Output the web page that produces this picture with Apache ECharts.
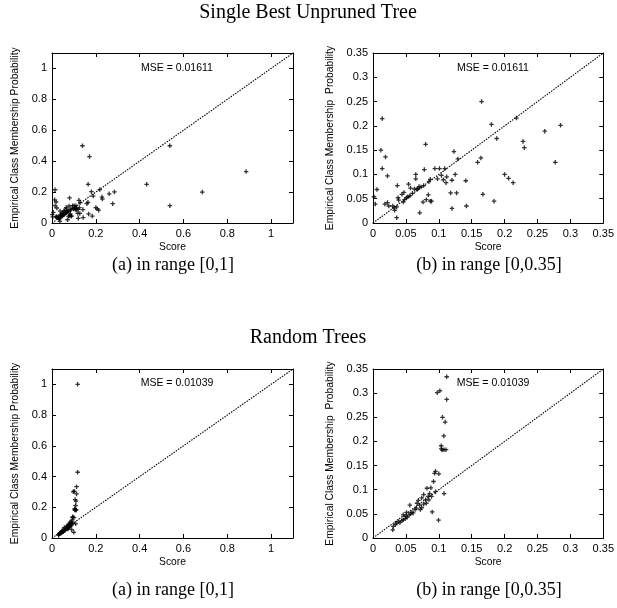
<!DOCTYPE html>
<html>
<head>
<meta charset="utf-8">
<script src="https://cdn.jsdelivr.net/npm/echarts@6/dist/echarts.min.js"></script>
<style>
  html, body { margin: 0; padding: 0; background: #fff; }
  #chart-container { width: 617px; height: 608px; }
</style>
</head>
<body>
<div id="chart-container"></div>
<script>
// [score, empirical class membership probability]
var singleTree = [
  [0.165, 0.25], [0.014, 0.215], [0.18, 0.203], [0.218, 0.216], [0.285, 0.201],
  [0.261, 0.189], [0.188, 0.174], [0.228, 0.168], [0.23, 0.155], [0.08, 0.162],
  [0.012, 0.15], [0.019, 0.136], [0.123, 0.147], [0.129, 0.132], [0.164, 0.134],
  [0.159, 0.125], [0.277, 0.125], [0.014, 0.112], [0.022, 0.097], [0.065, 0.1],
  [0.065, 0.091], [0.078, 0.11], [0.094, 0.112], [0.101, 0.112], [0.109, 0.112],
  [0.098, 0.091], [0.104, 0.098], [0.107, 0.089], [0.111, 0.083], [0.112, 0.095],
  [0.12, 0.088], [0.125, 0.1], [0.141, 0.087], [0.2, 0.1], [0.206, 0.092],
  [0.213, 0.083], [0.006, 0.069], [0.037, 0.077], [0.0015, 0.054], [0.0035, 0.039],
  [0.018, 0.039], [0.022, 0.042], [0.024, 0.035], [0.038, 0.052], [0.039, 0.047],
  [0.044, 0.059], [0.047, 0.063], [0.054, 0.08], [0.057, 0.072], [0.046, 0.043],
  [0.048, 0.048], [0.051, 0.052], [0.053, 0.054], [0.056, 0.056], [0.06, 0.061],
  [0.063, 0.07], [0.068, 0.071], [0.07, 0.075], [0.073, 0.074], [0.077, 0.077],
  [0.085, 0.085], [0.087, 0.09], [0.067, 0.069], [0.032, 0.031], [0.03, 0.035],
  [0.036, 0.033], [0.033, 0.026], [0.036, 0.011], [0.071, 0.021], [0.076, 0.043],
  [0.081, 0.048], [0.084, 0.058], [0.087, 0.045], [0.089, 0.045], [0.118, 0.062],
  [0.127, 0.062], [0.12, 0.03], [0.142, 0.035], [0.167, 0.059], [0.184, 0.045],
  [0.139, 0.5], [0.171, 0.43], [0.432, 0.25], [0.538, 0.5], [0.538, 0.112],
  [0.686, 0.2], [0.886, 0.333]
];

var randomTrees = [
  [0.112, 0.334], [0.0976, 0.301], [0.1016, 0.305], [0.112, 0.287], [0.1056, 0.25],
  [0.1097, 0.24], [0.1076, 0.2115], [0.1037, 0.191], [0.104, 0.185], [0.105, 0.182],
  [0.108, 0.183], [0.111, 0.183], [0.0936, 0.134], [0.095, 0.138], [0.1, 0.133],
  [0.092, 0.117], [0.088, 0.104], [0.082, 0.103], [0.095, 0.096], [0.108, 0.092],
  [0.09, 0.054], [0.0996, 0.037], [0.03, 0.017], [0.031, 0.024], [0.034, 0.028],
  [0.036, 0.031], [0.039, 0.034], [0.041, 0.032], [0.044, 0.036], [0.046, 0.038],
  [0.049, 0.04], [0.05, 0.045], [0.052, 0.043], [0.055, 0.048], [0.057, 0.05],
  [0.059, 0.053], [0.061, 0.052], [0.056, 0.068], [0.064, 0.059], [0.066, 0.062],
  [0.067, 0.072], [0.069, 0.078], [0.071, 0.068], [0.074, 0.063], [0.074, 0.083],
  [0.077, 0.09], [0.08, 0.079], [0.081, 0.072], [0.084, 0.086], [0.085, 0.079],
  [0.086, 0.092], [0.089, 0.086], [0.077, 0.07], [0.072, 0.059], [0.051, 0.053],
  [0.046, 0.048], [0.117, 1.0], [0.117, 0.428]
];

var sectionTitles = ['Single Best Unpruned Tree', 'Random Trees'];
var captions = ['(a) in range [0,1]', '(b) in range [0,0.35]'];
var mseLabels = ['MSE = 0.01611', 'MSE = 0.01039'];
var axisMax = [1.1, 0.35];
var axisInterval = [0.2, 0.05];
var yNames = ['Empirical Class Membership Probability', 'Empirical Class Membership  Probability'];

var grids = [
  { left: 52, top: 53, width: 241, height: 170 },
  { left: 373, top: 53, width: 234, height: 170 },
  { left: 52, top: 369, width: 241, height: 169 },
  { left: 373, top: 369, width: 233, height: 169 }
];

var plusSymbol = 'path://M1.6,0H2.9V1.6H4.5V2.9H2.9V4.5H1.6V2.9H0V1.6H1.6Z';
var labelFont = { fontFamily: 'Liberation Sans', fontSize: 11, color: '#000' };
var nameFont = { fontFamily: 'Liberation Sans', fontSize: 10.3, color: '#000' };

var dom = document.getElementById("chart-container");
var myChart = echarts.init(dom, null, { renderer: "canvas" });

var xAxes = [], yAxes = [], series = [], graphics = [];

grids.forEach(function (g, i) {
  var r = i % 2;
  var data = i < 2 ? singleTree : randomTrees;
  var base = {
    type: 'value', gridIndex: i, min: 0, max: axisMax[r], interval: axisInterval[r],
    splitLine: { show: false },
    axisLine: { show: true, onZero: false, lineStyle: { color: '#000', width: 1 } },
    axisTick: { show: true, inside: true, length: 4, lineStyle: { color: '#000' } }
  };
  xAxes.push(Object.assign({}, base, {
    position: 'bottom',
    name: 'Score', nameLocation: 'middle', nameGap: 19,
    nameTextStyle: nameFont,
    axisLabel: Object.assign({ margin: 5, showMaxLabel: r === 1 }, labelFont)
  }));
  xAxes.push(Object.assign({}, base, { position: 'top', axisLabel: { show: false } }));
  yAxes.push(Object.assign({}, base, {
    position: 'left',
    name: yNames[r], nameLocation: 'middle', nameGap: r === 0 ? 32 : 38,
    nameTextStyle: nameFont,
    axisLabel: Object.assign({ margin: 5, showMaxLabel: r === 1 }, labelFont)
  }));
  yAxes.push(Object.assign({}, base, { position: 'right', axisLabel: { show: false } }));

  series.push({
    type: 'line', xAxisIndex: 2 * i, yAxisIndex: 2 * i,
    data: [[0, 0], [axisMax[r], axisMax[r]]],
    symbol: 'none', silent: true,
    lineStyle: { color: '#000', width: 1.1, type: [1.5, 1.2] }
  });
  series.push({
    type: 'scatter', xAxisIndex: 2 * i, yAxisIndex: 2 * i,
    data: data, clip: true,
    symbol: plusSymbol, symbolSize: 4.5,
    itemStyle: { color: '#000' }
  });

  graphics.push({
    type: 'text', x: r === 0 ? 177 : 493, y: i < 2 ? 68 : 383,
    style: { text: mseLabels[i < 2 ? 0 : 1], font: '10.5px "Liberation Sans"', fill: '#000', align: 'center', verticalAlign: 'middle' }
  });
  graphics.push({
    type: 'text', x: r === 0 ? 173 : 489, y: i < 2 ? 265 : 590,
    style: { text: captions[r], font: '18px "Liberation Serif"', fill: '#000', align: 'center', verticalAlign: 'middle' }
  });
});

sectionTitles.forEach(function (t, k) {
  graphics.push({
    type: 'text', x: 308, y: k === 0 ? 13 : 338,
    style: { text: t, font: '20px "Liberation Serif"', fill: '#000', align: 'center', verticalAlign: 'middle' }
  });
});

var option = {
  backgroundColor: '#fff',
  animation: false,
  grid: grids,
  xAxis: xAxes,
  yAxis: yAxes,
  series: series,
  graphic: { elements: graphics }
};

myChart.setOption(option);
window.addEventListener("resize", myChart.resize);
</script>
</body>
</html>
